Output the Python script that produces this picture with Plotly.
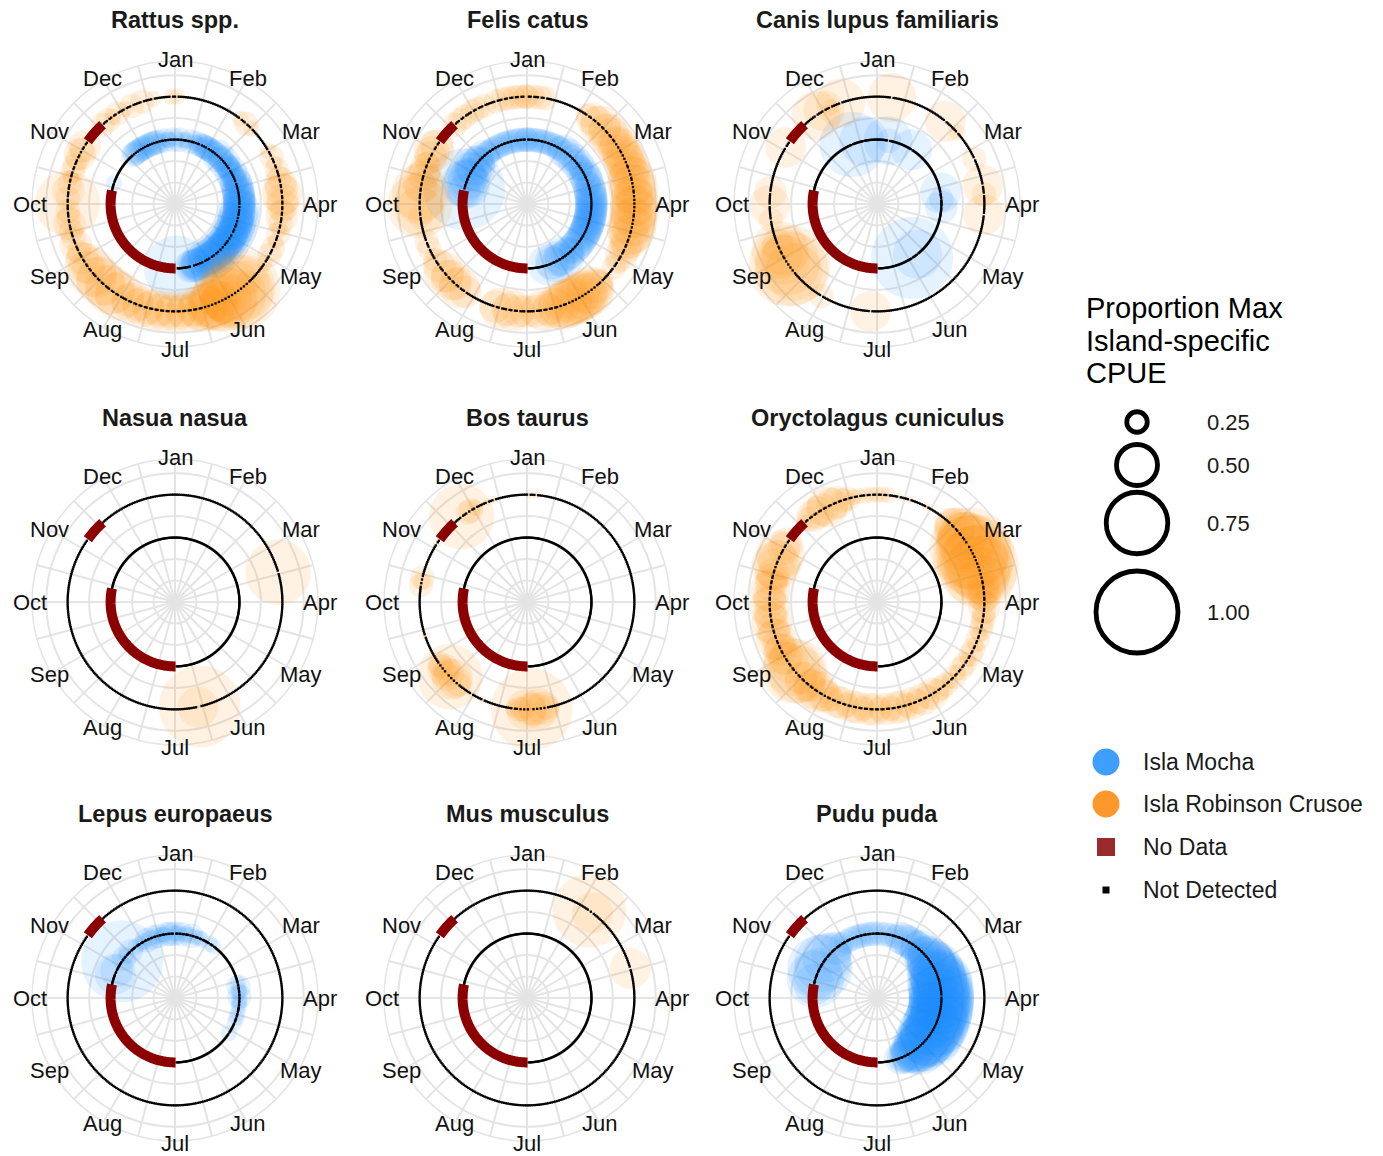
import math
import plotly.graph_objects as go

W, H = 1383, 1156
FONT = "Liberation Sans, Arial, sans-serif"

MONTHS = ["Jan", "Feb", "Mar", "Apr", "May", "Jun",
          "Jul", "Aug", "Sep", "Oct", "Nov", "Dec"]
MONTH_DAYS = [31, 28, 31, 30, 31, 30, 31, 31, 30, 31, 30, 31]

SPECIES = ["Rattus spp.", "Felis catus", "Canis lupus familiaris",
           "Nasua nasua", "Bos taurus", "Oryctolagus cuniculus",
           "Lepus europaeus", "Mus musculus", "Pudu puda"]

# Days of year without camera data (start inclusive, end exclusive)
NO_DATA_MOCHA = (182, 286)
NO_DATA_RC = (310, 322)

# Daily detections, one string per month (Jan..Dec), one character per day
# starting on the 1st: "." not detected, "1".."9" = 0.1..0.9 and "X" = 1.0 of
# the island-specific maximum CPUE. Days past the end of a string were not
# detected; spaces only group the days in fives.
RATTUS_MOCHA = [
    ".2..3 ..2.. .2..3 ...2. 3..23 .3.3. 3",
    "3.3.3 ..3.3 .4.3. 3.3.4 .3.3. 3.3",
    "3.4.3 .3.4. 3.34. 4.3.4 .4.4. 4.4.4 .",
    "4.44. 45.4. 4.54. 45.44 .5.45 .4.54",
    "4.54. 45.4. 4.54. 45.44 .5.45 .4.54 .",
    "4.5.4 4.5.4 .4.4. 434",
    "8",
    "",
    "",
    "..... ..... ..... ..... 2",
    "..... ..... ..... ..... 3.3.3 .3.3.",
    "3.3.3 ..3.3 .3.3. .3.2. .3..2 .2..3 .",
]
RATTUS_RC = [
    ".2",
    "..... ..2.. .3... 2",
    "..2.. .3... 2..3. ...3. .4..4 ..5.. 4",
    "..4.. 3..4. ..3.. 2..3. ..2.. .3...",
    "3.... 2.... ..... ....3 .6.8. X.9.8",
    "7.6.8 .5.7. 6.6.5 .6..5 ..4.. 5..4.",
    ".5..4 ..5.. 4..5. .4..5 ..4.. 5..4. .",
    "..6.. 5..6. ..5.. 6..5. ..6.. 4..5. .",
    "4...3 ...4. ..3.. .3... 4..3. ..3..",
    ".8..3 ...4. ..3.. 2...3 ..3.. .3..4 .",
    "3..4. ..... ..... ...3. ..3.. 2..3.",
    "...2. ..3.. ...3. ....2 ..... ....2 .",
]
FELIS_MOCHA = [
    "3..3. .3..3 ..3.. 3..3. .3..3 ..3.. 3",
    ".3..4 ..3.. 4..3. .4..3 ..4.. 3.3",
    ".4..3 .4..4 ..4.3 ..4.. 4.4.. 4.4.4 .",
    "4.4.4 .4.4. 4.4.4 .4.4. 4.4.4 .4.4.",
    "4..4. .4..4 ..4.. 4..3. .4..4 ..5.. 4",
    "..4.. 5..4. ..5",
    "",
    "",
    "",
    "..... ..... ...4X .5..6 ..5.. 5..4. .",
    "5..4. .5..4 ..4.. 3..4. .3..3 ..3..",
    "3..3. .3..3 ..3.. 3..3. .3..3 ..3.. 3",
]
FELIS_RC = [
    "3..3. ..3.. 3",
    "....3 ..4.. 4..5. .4..5 ..5.. 4.5",
    ".5..5 .5.5. 5..5. 5.5.. 6.5.6 ..5.5 .",
    "6.5.6 .6..5 .6.5. 6..5. 5..4. .4...",
    "4...3 ...3. ..... ...3. ..4.5 .6.5. 6",
    ".6.6. 6.6.6 ..6.5 ..5.. 4..5. ..4..",
    "..4.. .4..5 ..4.. .5..4",
    "..... .4... 5..4. .5..4 ..5.. .4... 3",
    "..... .3... 3.... ..... ....3 ..6..",
    "8..6. ..7.. 4..5. ..4.. 4..3. ..4.. 4",
    "5..4. ..... ..... ...3. ..3.. 3....",
    "3..3. ..3.. ....3 ...3. .3..3 ..3.. 3",
]
CANIS_MOCHA = [
    "..... ..... 63",
    "..5",
    "..... ..... ..... ..... ..5.. ...3",
    "....4",
    "..... ..... ..... ..... ...6. ....X",
    "", "", "", "", "", "",
    "..... ...8. ..... ....6",
]
CANIS_RC = [
    "..... ...6",
    "..... ....5 ..... ...2",
    "..... ..3.. ..... ..... ..5.. ..3",
    "..... ..5",
    "",
    "",
    "..... 5",
    "..3.. ..... ..... ..... ..7.9 .X.8. 6",
    "..5.. 7..4. ..... ..... ..3",
    "5.... ..4",
    "..5.. ..... ..... ..... ..... .6",
    ".5... 2.... .6",
]
NASUA_MOCHA = [""] * 12
NASUA_RC = [
    "", "",
    "..... ..... ..... .8",
    "", "",
    "..... ..... ..... ...X5",
    "", "", "", "", "", "",
]
BOS_MOCHA = [""] * 12
BOS_RC = [
    ".1...1",
    "", "", "", "",
    "..... ..... ..... ..... .3.4. 5.4.X",
    "4.5.3 .3..2 ..... ..... ..... .1",
    "..1.. ..... .3.4. 5.8.4 3.4.3 .3",
    "..... ..... ..1",
    "..... ..... 3.2.3",
    "...1. ..... ..... ..... ...8. ..3.3",
    "..2.. ....1 ...1",
]
ORYCTOLAGUS_MOCHA = [""] * 12
ORYCTOLAGUS_RC = [
    "2..2. .2... ..1.. ...1. ..... ...1.",
    "..... ..... ...4. .5..6 ..6.. 7.7",
    "8.X.9 .X.8. 9.X.8 .9.7. 6..4. .4..4 .",
    ".3..4 ..3.. 3..3. .3..2 ..3.. 2..3.",
    ".3..2 ..3.. 3..2. .3..2 ..3.. 3..3. .",
    "4..3. .4..3 ..4.. 3..4. .4..3 ..4..",
    "3..4. .4..3 ..4.. 4..3. .4..4 ..3.. 4",
    ".4..5 ..5.. 4..5. .4..7 .8..7 ..5.. 4",
    ".5..4 ..4.. 5..4. .4..5 ..4.. 4..5.",
    ".4..4 ..5.. 4..4. .4..5 .6..5 ..6.. .",
    "4..4. ..... ..... ...2. .3..4 ..4..",
    "4..5. .4..4 ..3.. 3..2. .2... 2..2.",
]
LEPUS_MOCHA = [
    "3..2. .3..2 ...2. 3..2. ..2.. 2",
    "..2.. .2",
    "..... ..... ..... ....2 ..3.. 2..2.",
    "3..2. .2..2 ..... 2...2 ....2",
    "..... 2",
    "", "", "", "",
    "..... ..... ..... ..... ...5. .4",
    "..... X..3. .2... ..3.. ...2. ...2.",
    "..2.. 3..2. .3..2 .3..2 ..2.3 ..3.. 2",
]
LEPUS_RC = [""] * 12
MUS_MOCHA = [""] * 12
MUS_RC = [
    "",
    "..... 9.5",
    "..... ..... ..... .5",
    "", "", "", "", "", "", "", "", "",
]
PUDU_MOCHA = [
    "...3. ...3. ...3. ...3. ..4.. .4..4 .",
    ".4... 4..4. ..5.. 4..5. .5..6 ..6",
    ".6..6 .7.6. 7.6.7 .7.8. 7.8.7 .8.7. 8",
    "8.7.8 .8.7. 8.8.7 .8.7. 8.7.8 .8.7.",
    "7.8.7 .8.7. 7.7.6 .7.6. 7.6.6 .5.5. 5",
    ".5..4 ..4.. 4",
    "", "", "",
    "..... ..... ...5. ...7. ....6 ....8 .",
    "...7. ....6 ..... 5.... .4... ..3..",
    "..3.. ..3.. .3... 3..3. ..3.. .3..3 .",
]
PUDU_RC = [""] * 12

MOCHA = [RATTUS_MOCHA, FELIS_MOCHA, CANIS_MOCHA, NASUA_MOCHA, BOS_MOCHA,
         ORYCTOLAGUS_MOCHA, LEPUS_MOCHA, MUS_MOCHA, PUDU_MOCHA]
ROBINSON = [RATTUS_RC, FELIS_RC, CANIS_RC, NASUA_RC, BOS_RC,
            ORYCTOLAGUS_RC, LEPUS_RC, MUS_RC, PUDU_RC]

SIZE_BREAKS = [0.25, 0.50, 0.75, 1.00]
SIZE_LABELS = ["0.25", "0.50", "0.75", "1.00"]
KEY_LABELS = ["Isla Mocha", "Isla Robinson Crusoe", "No Data", "Not Detected"]

# ---- styling -------------------------------------------------------------
RING_MOCHA, RING_RC = 1.5, 2.5          # radial position of each island
R_MAX = 3.33                            # outer edge of each polar panel
GRID_R = [0.5, 1.0, 1.5, 2.0, 2.5, 3.0]
SIZE_PX = 82                            # marker diameter for proportion 1.0
ALPHA = 0.16
BLUE = (30, 144, 255)
ORANGE = (255, 140, 0)
NODATA = "#8B0000"
GRID = "#e4e4e4"
TEXT = "#1a1a1a"

COL_X = [175, 527, 877]
ROW_Y = [204, 602, 998]
PANEL_R = 143                           # panel radius in px
LABEL_R_PX = 145                        # month labels sit on the outer circle

CODE = {str(i): i / 10 for i in range(1, 10)}
CODE["X"] = 1.0


def day_angle(doy):
    return doy * 360.0 / 365.0


def parse(months, no_data):
    det_days, det_vals, nd_days = [], [], []
    start = 0
    for m, raw in enumerate(months):
        s = raw.replace(" ", "")
        if len(s) > MONTH_DAYS[m]:
            raise ValueError(f"{MONTHS[m]} has {len(s)} days")
        for d in range(MONTH_DAYS[m]):
            doy = start + d
            c = s[d] if d < len(s) else "."
            if no_data[0] <= doy < no_data[1]:
                if c != ".":
                    raise ValueError(f"detection on no-data day {doy}")
                continue
            if c == ".":
                nd_days.append(doy)
            else:
                det_days.append(doy)
                det_vals.append(CODE[c])
        start += MONTH_DAYS[m]
    return det_days, det_vals, nd_days


def rgba(c, a):
    return f"rgba({c[0]},{c[1]},{c[2]},{a})"


fig = go.Figure()
layout = {}
annotations = []

for i, name in enumerate(SPECIES):
    key = "polar" if i == 0 else f"polar{i + 1}"
    cx, cy = COL_X[i % 3], ROW_Y[i // 3]
    layout[key] = dict(
        domain=dict(x=[(cx - PANEL_R) / W, (cx + PANEL_R) / W],
                    y=[1 - (cy + PANEL_R) / H, 1 - (cy - PANEL_R) / H]),
        bgcolor="rgba(0,0,0,0)",
        radialaxis=dict(range=[0, R_MAX], tickmode="array", tickvals=GRID_R,
                        showticklabels=False, ticks="", showline=False,
                        gridcolor=GRID, gridwidth=1.5, layer="below traces"),
        angularaxis=dict(rotation=90, direction="clockwise", tickmode="array",
                         tickvals=list(range(0, 360, 15)), showticklabels=False,
                         ticks="", gridcolor=GRID, gridwidth=1.5, showline=True,
                         linecolor=GRID, linewidth=1.5, layer="below traces"),
    )

    series = [(MOCHA[i], NO_DATA_MOCHA, RING_MOCHA, BLUE),
              (ROBINSON[i], NO_DATA_RC, RING_RC, ORANGE)]
    parsed = [parse(m, nd) for m, nd, _, _ in series]

    # detections: bubbles sized by proportion of max CPUE
    for (m, nd, ring, col), (dd, dv, _) in zip(series, parsed):
        if dd:
            fig.add_trace(go.Scatterpolar(
                r=[ring] * len(dd), theta=[day_angle(d) for d in dd],
                mode="markers", subplot=key, cliponaxis=False,
                marker=dict(size=[v * SIZE_PX for v in dv], color=rgba(col, ALPHA),
                            line=dict(width=0)),
                hoverinfo="skip", showlegend=False))

    # days sampled without detection
    for (m, nd, ring, col), (_, _, ndd) in zip(series, parsed):
        fig.add_trace(go.Scatterpolar(
            r=[ring] * len(ndd), theta=[day_angle(d) for d in ndd],
            mode="markers", subplot=key, cliponaxis=False,
            marker=dict(symbol="square", size=2.3, color="black",
                        line=dict(width=0)),
            hoverinfo="skip", showlegend=False))

    # periods without data
    for m, nd, ring, col in series:
        days = list(range(nd[0], nd[1] + 1))
        fig.add_trace(go.Scatterpolar(
            r=[ring] * len(days), theta=[day_angle(d) for d in days],
            mode="lines", subplot=key, cliponaxis=False,
            line=dict(color=NODATA, width=10),
            hoverinfo="skip", showlegend=False))

    # panel title and month labels around the outer circle
    annotations.append(dict(
        x=cx, y=cy - 184, xref="x", yref="y",
        text=f"<b>{name}</b>", showarrow=False, xanchor="center", yanchor="middle",
        font=dict(family=FONT, size=23.5, color=TEXT)))
    for k, mon in enumerate(MONTHS):
        a = math.radians(k * 30)
        annotations.append(dict(
            x=cx + LABEL_R_PX * math.sin(a), y=cy - LABEL_R_PX * math.cos(a),
            xref="x", yref="y", text=mon, showarrow=False,
            xanchor="center", yanchor="middle",
            font=dict(family=FONT, size=22, color="#111111")))

# ---- legend drawn on a pixel-space overlay --------------------------------
SIZE_KEY_X, SIZE_KEY_Y = 1137, [422, 465, 523, 612]
fig.add_trace(go.Scatter(
    x=[SIZE_KEY_X] * 4, y=SIZE_KEY_Y, mode="markers", xaxis="x", yaxis="y",
    marker=dict(symbol="circle-open", size=[v * SIZE_PX for v in SIZE_BREAKS],
                color="black", opacity=1, line=dict(width=4.8, color="black")),
    hoverinfo="skip", showlegend=False))

KEY_X, KEY_Y = 1106, [762, 804, 847, 890]
fig.add_trace(go.Scatter(
    x=[KEY_X] * 4, y=KEY_Y, mode="markers", xaxis="x", yaxis="y",
    marker=dict(symbol=["circle", "circle", "square", "square"],
                size=[27, 27, 18, 7], opacity=1,
                color=["#3f9fff", "#ff982a", "#9b2a2d", "black"],
                line=dict(width=0)),
    hoverinfo="skip", showlegend=False))

for line, yy in zip(["Proportion Max", "Island-specific", "CPUE"], [308, 341, 373]):
    annotations.append(dict(
        x=1084, y=yy, xref="x", yref="y", text=line, showarrow=False,
        xanchor="left", yanchor="middle",
        font=dict(family=FONT, size=29, color="black")))

for lab, yy in zip(SIZE_LABELS, SIZE_KEY_Y):
    annotations.append(dict(
        x=1205, y=yy, xref="x", yref="y", text=lab, showarrow=False,
        xanchor="left", yanchor="middle",
        font=dict(family=FONT, size=22, color=TEXT)))

for lab, yy in zip(KEY_LABELS, KEY_Y):
    annotations.append(dict(
        x=1141, y=yy, xref="x", yref="y", text=lab, showarrow=False,
        xanchor="left", yanchor="middle",
        font=dict(family=FONT, size=23, color=TEXT)))

fig.update_layout(
    width=W, height=H, margin=dict(l=0, r=0, t=0, b=0),
    paper_bgcolor="white", plot_bgcolor="rgba(0,0,0,0)",
    xaxis=dict(range=[0, W], domain=[0, 1], visible=False, fixedrange=True),
    yaxis=dict(range=[H, 0], domain=[0, 1], visible=False, fixedrange=True),
    annotations=annotations,
    **layout,
)

fig.write_html("out.html")
